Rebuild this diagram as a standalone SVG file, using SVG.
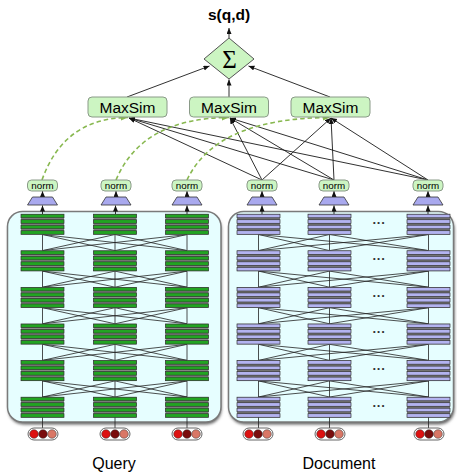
<svg xmlns="http://www.w3.org/2000/svg" xmlns:xlink="http://www.w3.org/1999/xlink" width="457" height="473" viewBox="0 0 457 473">
<style>
.t{font-family:"Liberation Sans",Arial,sans-serif;fill:#000}
.node{fill:#ccf5c2;stroke:#8a9a88;stroke-width:1}
.ln{stroke:#1a1a1a;stroke-width:0.9;fill:none}
.gl{stroke:#222;stroke-width:0.8;fill:none}
.dash{stroke:#88b850;stroke-width:1.6;stroke-dasharray:4.5,3;fill:none}
.trap{fill:#a9a9ee;stroke:#333;stroke-width:0.8}
.pill{fill:#fff;stroke:#555;stroke-width:0.9}
</style>
<defs>
<marker id="ah" markerUnits="userSpaceOnUse" markerWidth="7" markerHeight="6" refX="6" refY="2.5" orient="auto"><path d="M0,0 L6,2.5 L0,5 z" fill="#111"/></marker>
<marker id="ahg" markerUnits="userSpaceOnUse" markerWidth="8" markerHeight="7" refX="7" refY="3" orient="auto"><path d="M0,0 L7,3 L0,6 z" fill="#88b850"/></marker>
<filter id="sh" x="-5%" y="-5%" width="110%" height="115%"><feGaussianBlur stdDeviation="1.5"/></filter>
<g id="gs">
<rect x="-21.5" y="0" width="43" height="20.5" fill="#888"/>
<rect x="-21.5" y="0.2" width="43" height="3.6" fill="#22a422" stroke="#333" stroke-width="0.7"/>
<rect x="-21.5" y="5.7" width="43" height="3.6" fill="#22a422" stroke="#333" stroke-width="0.7"/>
<rect x="-21.5" y="11.2" width="43" height="3.6" fill="#22a422" stroke="#333" stroke-width="0.7"/>
<rect x="-21.5" y="16.7" width="43" height="3.6" fill="#22a422" stroke="#333" stroke-width="0.7"/>
</g>
<g id="ls">
<rect x="-21.5" y="0" width="43" height="20.5" fill="#777"/>
<rect x="-21.5" y="0.2" width="43" height="3.6" fill="#b3b3f0" stroke="#333" stroke-width="0.7"/>
<rect x="-21.5" y="5.7" width="43" height="3.6" fill="#b3b3f0" stroke="#333" stroke-width="0.7"/>
<rect x="-21.5" y="11.2" width="43" height="3.6" fill="#b3b3f0" stroke="#333" stroke-width="0.7"/>
<rect x="-21.5" y="16.7" width="43" height="3.6" fill="#b3b3f0" stroke="#333" stroke-width="0.7"/>
</g>
<g id="qgap" class="gl">
<path d="M42.5,0 V16.1 M115,0 V16.1 M187,0 V16.1"/>
<path d="M42.5,0 L115,16.1 M42.5,0 L187,16.1 M115,0 L42.5,16.1 M115,0 L187,16.1 M187,0 L42.5,16.1 M187,0 L115,16.1"/>
</g>
<g id="dgap" class="gl">
<path d="M258.5,0 V16.1 M329.5,0 V16.1 M428.5,0 V16.1"/>
<path d="M258.5,0 L329.5,16.1 M258.5,0 L428.5,16.1 M329.5,0 L258.5,16.1 M329.5,0 L428.5,16.1 M428.5,0 L258.5,16.1 M428.5,0 L329.5,16.1"/>
</g>
<g id="pl">
<rect class="pill" x="-15" y="-6" width="30" height="12" rx="6"/>
<circle cx="-9" cy="0" r="4.3" fill="#dd1111" stroke="#333" stroke-width="0.5"/>
<circle cx="0" cy="0" r="4.3" fill="#7a0d0d" stroke="#333" stroke-width="0.5"/>
<circle cx="9" cy="0" r="4.3" fill="#d97766" stroke="#333" stroke-width="0.5"/>
</g>
<g id="nm">
<path class="ln" d="M0,197 V191" marker-end="url(#ah)"/>
<polygon class="trap" points="-15,205 15,205 10,197 -10,197"/>
<rect class="node" x="-15" y="180" width="30" height="11" rx="4"/>
<text class="t" x="0" y="188.8" font-size="9.8" text-anchor="middle">norm</text>
</g>
</defs>

<g id="title"><text class="t" x="229" y="20" font-size="15.5" font-weight="bold" text-anchor="middle">s(q,d)</text></g>

<g id="connectors">
<path class="ln" d="M229,38 V28" marker-end="url(#ah)"/>
<path class="ln" d="M127,97 L209.5,66" marker-end="url(#ah)"/>
<path class="ln" d="M229,97 V79.5" marker-end="url(#ah)"/>
<path class="ln" d="M330,97 L248.5,66" marker-end="url(#ah)"/>
<path class="ln" d="M262,180 L129,118" marker-end="url(#ah)"/>
<path class="ln" d="M334,180 L129,118" marker-end="url(#ah)"/>
<path class="ln" d="M428,180 L129,118" marker-end="url(#ah)"/>
<path class="ln" d="M262,180 L230,118" marker-end="url(#ah)"/>
<path class="ln" d="M334,180 L230,118" marker-end="url(#ah)"/>
<path class="ln" d="M428,180 L230,118" marker-end="url(#ah)"/>
<path class="ln" d="M262,180 L331,118" marker-end="url(#ah)"/>
<path class="ln" d="M334,180 L331,118" marker-end="url(#ah)"/>
<path class="ln" d="M428,180 L331,118" marker-end="url(#ah)"/>
<path class="dash" d="M42,180 Q64,118 128,117.5" marker-end="url(#ahg)"/>
<path class="dash" d="M116,180 Q142,118 229,117.5" marker-end="url(#ahg)"/>
<path class="dash" d="M187,180 Q216,118 330,117.5" marker-end="url(#ahg)"/>
</g>

<g id="sum">
<polygon points="229,38 254,59 229,79 204,59" fill="#ccf5c2" stroke="#555" stroke-width="1"/>
<text x="229.5" y="68" font-family="Liberation Serif,serif" font-size="25" text-anchor="middle">Σ</text>
</g>

<g id="maxsim1"><rect class="node" x="88" y="97" width="79" height="20" rx="4"/><text class="t" x="127.5" y="112.7" font-size="15.5" text-anchor="middle">MaxSim</text></g>
<g id="maxsim2"><rect class="node" x="189.5" y="97" width="79" height="20" rx="4"/><text class="t" x="229" y="112.7" font-size="15.5" text-anchor="middle">MaxSim</text></g>
<g id="maxsim3"><rect class="node" x="291" y="97" width="79" height="20" rx="4"/><text class="t" x="330.5" y="112.7" font-size="15.5" text-anchor="middle">MaxSim</text></g>

<g id="query-encoder">
<rect x="8.5" y="214" width="213" height="210.5" rx="15" fill="#666" filter="url(#sh)"/>
<rect x="7.5" y="211.5" width="213.5" height="210.5" rx="15" fill="#e6feff" stroke="#7a7a7a" stroke-width="1.5"/>
<use xlink:href="#qgap" y="234.5"/>
<use xlink:href="#qgap" y="271.1"/>
<use xlink:href="#qgap" y="307.7"/>
<use xlink:href="#qgap" y="344.3"/>
<use xlink:href="#qgap" y="380.9"/>
<g>
<use xlink:href="#gs" x="42.5" y="214"/><use xlink:href="#gs" x="115" y="214"/><use xlink:href="#gs" x="187" y="214"/>
<use xlink:href="#gs" x="42.5" y="250.6"/><use xlink:href="#gs" x="115" y="250.6"/><use xlink:href="#gs" x="187" y="250.6"/>
<use xlink:href="#gs" x="42.5" y="287.2"/><use xlink:href="#gs" x="115" y="287.2"/><use xlink:href="#gs" x="187" y="287.2"/>
<use xlink:href="#gs" x="42.5" y="323.8"/><use xlink:href="#gs" x="115" y="323.8"/><use xlink:href="#gs" x="187" y="323.8"/>
<use xlink:href="#gs" x="42.5" y="360.4"/><use xlink:href="#gs" x="115" y="360.4"/><use xlink:href="#gs" x="187" y="360.4"/>
<use xlink:href="#gs" x="42.5" y="397"/><use xlink:href="#gs" x="115" y="397"/><use xlink:href="#gs" x="187" y="397"/>
</g>
</g>

<g id="doc-encoder">
<rect x="229.5" y="214" width="225" height="210.5" rx="15" fill="#666" filter="url(#sh)"/>
<rect x="228.5" y="211.5" width="225" height="210.5" rx="15" fill="#e6feff" stroke="#7a7a7a" stroke-width="1.5"/>
<use xlink:href="#dgap" y="234.5"/>
<use xlink:href="#dgap" y="271.1"/>
<use xlink:href="#dgap" y="307.7"/>
<use xlink:href="#dgap" y="344.3"/>
<use xlink:href="#dgap" y="380.9"/>
<g>
<use xlink:href="#ls" x="258.5" y="214"/><use xlink:href="#ls" x="329.5" y="214"/><use xlink:href="#ls" x="428.5" y="214"/>
<use xlink:href="#ls" x="258.5" y="250.6"/><use xlink:href="#ls" x="329.5" y="250.6"/><use xlink:href="#ls" x="428.5" y="250.6"/>
<use xlink:href="#ls" x="258.5" y="287.2"/><use xlink:href="#ls" x="329.5" y="287.2"/><use xlink:href="#ls" x="428.5" y="287.2"/>
<use xlink:href="#ls" x="258.5" y="323.8"/><use xlink:href="#ls" x="329.5" y="323.8"/><use xlink:href="#ls" x="428.5" y="323.8"/>
<use xlink:href="#ls" x="258.5" y="360.4"/><use xlink:href="#ls" x="329.5" y="360.4"/><use xlink:href="#ls" x="428.5" y="360.4"/>
<use xlink:href="#ls" x="258.5" y="397"/><use xlink:href="#ls" x="329.5" y="397"/><use xlink:href="#ls" x="428.5" y="397"/>
</g>
<g font-family="Liberation Sans,Arial,sans-serif" font-size="13" font-weight="bold" text-anchor="middle" fill="#333">
<text x="379" y="226.5">···</text><text x="379" y="263.1">···</text><text x="379" y="299.7">···</text>
<text x="379" y="336.3">···</text><text x="379" y="372.9">···</text><text x="379" y="409.5">···</text>
</g>
</g>

<g id="query-norms">
<path class="ln" d="M42.5,214 V205.5" marker-end="url(#ah)"/>
<path class="ln" d="M115.5,214 V205.5" marker-end="url(#ah)"/>
<path class="ln" d="M187,214 V205.5" marker-end="url(#ah)"/>
<use xlink:href="#nm" x="42.5"/><use xlink:href="#nm" x="116"/><use xlink:href="#nm" x="187"/>
</g>
<g id="doc-norms">
<path class="ln" d="M262,214 V205.5" marker-end="url(#ah)"/>
<path class="ln" d="M334,214 V205.5" marker-end="url(#ah)"/>
<path class="ln" d="M428,214 V205.5" marker-end="url(#ah)"/>
<use xlink:href="#nm" x="262"/><use xlink:href="#nm" x="334"/><use xlink:href="#nm" x="428"/>
</g>

<g id="query-inputs">
<path class="gl" d="M42.5,417.5 V428 M115,417.5 V428 M187,417.5 V428"/>
<use xlink:href="#pl" x="43" y="434"/><use xlink:href="#pl" x="115" y="434"/><use xlink:href="#pl" x="187" y="434"/>
</g>
<g id="doc-inputs">
<path class="gl" d="M258.5,417.5 V428 M329.5,417.5 V428 M428.5,417.5 V428"/>
<use xlink:href="#pl" x="258" y="434"/><use xlink:href="#pl" x="330" y="434"/><use xlink:href="#pl" x="429" y="434"/>
</g>

<g id="labels">
<text class="t" x="114" y="469" font-size="16" text-anchor="middle">Query</text>
<text class="t" x="339" y="469" font-size="16" text-anchor="middle">Document</text>
</g>
</svg>
